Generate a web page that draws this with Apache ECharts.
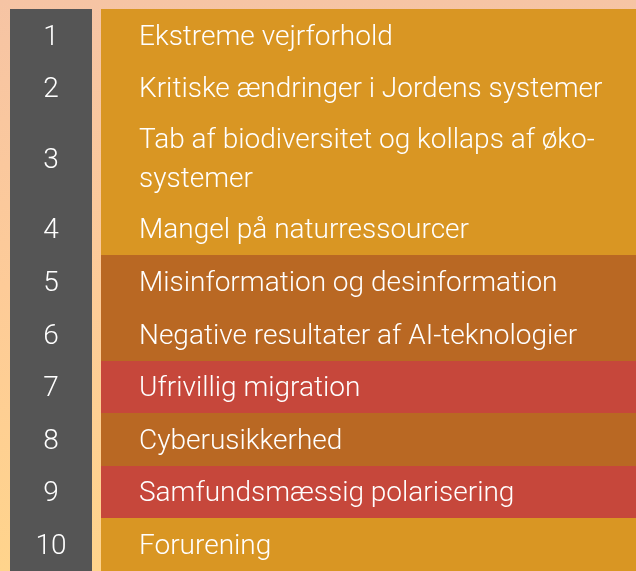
<!DOCTYPE html>
<html>
<head>
<meta charset="utf-8">
<script src="https://cdn.jsdelivr.net/npm/echarts@6/dist/echarts.min.js"></script>
<style>
html,body{margin:0;padding:0;}
#chart{width:636px;height:571px;}
</style>
</head>
<body>
<div id="chart"></div>
<script>
// ---- data ----
const ranks = [1, 2, 3, 4, 5, 6, 7, 8, 9, 10];
const risks = [
  "Ekstreme vejrforhold",
  "Kritiske ændringer i Jordens systemer",
  "Tab af biodiversitet og kollaps af øko-\nsystemer",
  "Mangel på naturressourcer",
  "Misinformation og desinformation",
  "Negative resultater af AI-teknologier",
  "Ufrivillig migration",
  "Cyberusikkerhed",
  "Samfundsmæssig polarisering",
  "Forurening"
];
const riskTypes = [
  "Miljø", "Miljø", "Miljø", "Miljø",
  "Teknologisk", "Teknologisk",
  "Samfundsmæssig",
  "Teknologisk",
  "Samfundsmæssig",
  "Miljø"
];

// ---- styling ----
const typeColors = {
  "Miljø": "#D99623",
  "Teknologisk": "#B96823",
  "Samfundsmæssig": "#C6473B"
};
const rankColor = "#555555";
const twoLineUnits = 1.68;
const FONT = '300 28px Roboto, "Liberation Sans", Arial, sans-serif';

// build rows: [index, start, end]
let acc = 0;
const rows = risks.map((r, i) => {
  const lines = r.split("\n").length;
  const h = lines > 1 ? twoLineUnits : 1;
  const row = [i, acc, acc + h];
  acc += h;
  return row;
});
const total = acc;

const chart = echarts.init(document.getElementById('chart'));
chart.setOption({
  animation: false,
  backgroundColor: {
    type: 'linear', x: 0, y: 0, x2: 0, y2: 1,
    colorStops: [
      { offset: 0, color: '#F6C4A4' },
      { offset: 0.5, color: '#FDCB98' },
      { offset: 1, color: '#FFD48C' }
    ]
  },
  grid: { left: 10, right: 0, top: 9, height: 566 },
  xAxis: { type: 'value', min: 0, max: 1, show: false },
  yAxis: { type: 'value', min: 0, max: total, inverse: true, show: false },
  series: [{
    type: 'custom',
    clip: false,
    data: rows,
    renderItem: function (params, api) {
      const i = api.value(0);
      const top = api.coord([0, api.value(1)]);
      const bot = api.coord([0, api.value(2)]);
      const cs = params.coordSys;
      const gx = cs.x;
      const grayW = 82;
      const oX = gx + 91;
      const oW = cs.x + cs.width - oX;
      const y0 = Math.round(top[1]), y1 = Math.round(bot[1]);
      const h = y1 - y0;
      const cy = y0 + h / 2 + 2;
      return {
        type: 'group',
        children: [
          { type: 'rect', shape: { x: gx, y: y0, width: grayW, height: h },
            style: { fill: rankColor } },
          { type: 'rect', shape: { x: oX, y: y0, width: oW, height: h },
            style: { fill: typeColors[riskTypes[i]] } },
          { type: 'text', x: gx + grayW / 2, y: cy,
            style: { text: String(ranks[i]), fill: '#fff', font: FONT,
              align: 'center', verticalAlign: 'middle' } },
          { type: 'text', x: oX + 38, y: cy,
            style: { text: risks[i], fill: '#fff', font: FONT,
              lineHeight: 39, align: 'left', verticalAlign: 'middle' } }
        ]
      };
    }
  }]
});
</script>
</body>
</html>
